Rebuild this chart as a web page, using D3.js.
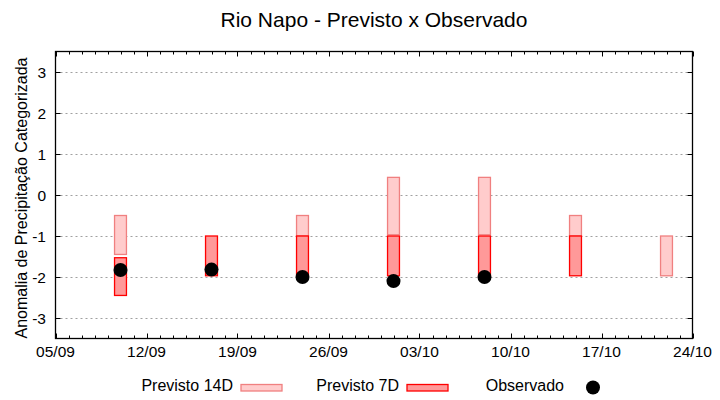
<!DOCTYPE html>
<html lang="pt">
<head>
<meta charset="utf-8">
<title>Rio Napo - Previsto x Observado</title>
<script src="https://cdn.jsdelivr.net/npm/d3@7"></script>
<style>
    body { margin: 0; background: #fff; }
    text { font-family: "Liberation Sans", Arial, sans-serif; fill: #000; }
    .grid line { stroke: #a0a0a0; stroke-dasharray: 2,3; }
</style>
</head>
<body>
<script>
// dados
var weeks = ["2020-09-10", "2020-09-17", "2020-09-24", "2020-10-01", "2020-10-08", "2020-10-15", "2020-10-22"];
var prev14Top    = [-0.5, null, -0.5, 0.43, 0.43, -0.5, -1.0];
var prev14Bottom = [-1.45, null, -1.0, -0.97, -0.97, -1.0, -1.97];
var prev7Top     = [-1.53, -1.0, -1.0, -1.0, -1.0, -1.0, null];
var prev7Bottom  = [-2.45, -1.97, -1.97, -1.97, -1.97, -1.97, null];
var observed     = [-1.83, -1.82, -2.0, -2.1, -2.0, null, null];
var yTicks = [-3, -2, -1, 0, 1, 2, 3];

var parse = d3.timeParse("%Y-%m-%d");
var fmt = d3.timeFormat("%d/%m");

var width = 720, height = 400;
var plot = {left: 55.5, right: 692.5, top: 51.5, bottom: 338.5};

var svg = d3.select("body").append("svg")
    .attr("width", width)
    .attr("height", height);

var start = parse("2020-09-05"), end = parse("2020-10-24");
var x = d3.scaleTime()
    .domain([start, end])
    .range([plot.left, plot.right]);
var y = d3.scaleLinear()
    .domain([-3.5, 3.5])
    .range([plot.bottom, plot.top]);

var majorDates = d3.range(0, 8).map(function (i) { return d3.timeDay.offset(start, i * 7); });
var minorDates = d3.range(0, 50).map(function (i) { return d3.timeDay.offset(start, i); });

// grade
svg.append("g").attr("class", "grid")
    .selectAll("line").data(yTicks).enter().append("line")
    .attr("x1", plot.left).attr("x2", plot.right)
    .attr("y1", function (d) { return Math.round(y(d)) + 0.5; })
    .attr("y2", function (d) { return Math.round(y(d)) + 0.5; });

// barras
function bars(top, bottom, fill, stroke) {
    var rows = weeks.map(function (w, i) {
        return {d: parse(w), top: top[i], bottom: bottom[i]};
    }).filter(function (r) { return r.top != null; });
    svg.append("g").selectAll("rect").data(rows).enter().append("rect")
        .attr("x", function (r) { return x(d3.timeHour.offset(r.d, -11)); })
        .attr("width", function (r) { return x(d3.timeHour.offset(r.d, 11)) - x(d3.timeHour.offset(r.d, -11)); })
        .attr("y", function (r) { return y(r.top); })
        .attr("height", function (r) { return y(r.bottom) - y(r.top); })
        .attr("fill", fill)
        .attr("stroke", stroke)
        .attr("stroke-width", 1.3);
}
bars(prev14Top, prev14Bottom, "#ffcccc", "#f08080");
bars(prev7Top, prev7Bottom, "#ff9999", "#ff0000");

// observado
svg.append("g").selectAll("circle")
    .data(weeks.map(function (w, i) { return {d: parse(w), v: observed[i]}; })
        .filter(function (r) { return r.v != null; }))
    .enter().append("circle")
    .attr("cx", function (r) { return x(r.d); })
    .attr("cy", function (r) { return y(r.v); })
    .attr("r", 7)
    .attr("fill", "#000");

// moldura e ticks
svg.append("rect")
    .attr("x", plot.left).attr("y", plot.top)
    .attr("width", plot.right - plot.left).attr("height", plot.bottom - plot.top)
    .attr("fill", "none").attr("stroke", "#000").attr("stroke-width", 1.3);

var ticks = svg.append("g").attr("stroke", "#000").attr("stroke-width", 1);
minorDates.forEach(function (d, i) {
    var len = (i % 7 === 0) ? 5 : 3;
    var xx = Math.round(x(d)) + 0.5;
    ticks.append("line").attr("x1", xx).attr("x2", xx).attr("y1", plot.bottom).attr("y2", plot.bottom - len);
    ticks.append("line").attr("x1", xx).attr("x2", xx).attr("y1", plot.top).attr("y2", plot.top + len);
});
yTicks.forEach(function (v) {
    var yy = Math.round(y(v)) + 0.5;
    ticks.append("line").attr("x1", plot.left).attr("x2", plot.left + 5).attr("y1", yy).attr("y2", yy);
    ticks.append("line").attr("x1", plot.right).attr("x2", plot.right - 5).attr("y1", yy).attr("y2", yy);
});

// rotulos dos eixos
svg.append("g").selectAll("text").data(majorDates).enter().append("text")
    .attr("x", function (d) { return x(d); })
    .attr("y", 357)
    .attr("text-anchor", "middle")
    .style("font-size", "15.5px")
    .text(function (d) { return fmt(d); });

svg.append("g").selectAll("text").data(yTicks).enter().append("text")
    .attr("x", 46)
    .attr("y", function (d) { return y(d) + 5.5; })
    .attr("text-anchor", "end")
    .style("font-size", "15.5px")
    .text(function (d) { return d; });

svg.append("text")
    .attr("transform", "translate(27," + ((plot.top + plot.bottom) / 2 + 3) + ") rotate(-90)")
    .attr("text-anchor", "middle")
    .style("font-size", "16px")
    .text("Anomalia de Precipitação Categorizada");

svg.append("text")
    .attr("x", (plot.left + plot.right) / 2)
    .attr("y", 27)
    .attr("text-anchor", "middle")
    .style("font-size", "21px")
    .text("Rio Napo - Previsto x Observado");

// legenda
var legend = svg.append("g");
legend.append("text").attr("x", 233).attr("y", 391).attr("text-anchor", "end")
    .style("font-size", "16px").text("Previsto 14D");
legend.append("rect").attr("x", 241).attr("y", 384.5).attr("width", 41).attr("height", 6.5)
    .attr("fill", "#ffcccc").attr("stroke", "#f08080").attr("stroke-width", 1.3);
legend.append("text").attr("x", 399).attr("y", 391).attr("text-anchor", "end")
    .style("font-size", "16px").text("Previsto 7D");
legend.append("rect").attr("x", 407).attr("y", 384.5).attr("width", 41).attr("height", 6.5)
    .attr("fill", "#ff9999").attr("stroke", "#ff0000").attr("stroke-width", 1.3);
legend.append("text").attr("x", 564).attr("y", 391).attr("text-anchor", "end")
    .style("font-size", "16px").text("Observado");
legend.append("circle").attr("cx", 593).attr("cy", 387.5).attr("r", 7).attr("fill", "#000");
</script>
</body>
</html>
